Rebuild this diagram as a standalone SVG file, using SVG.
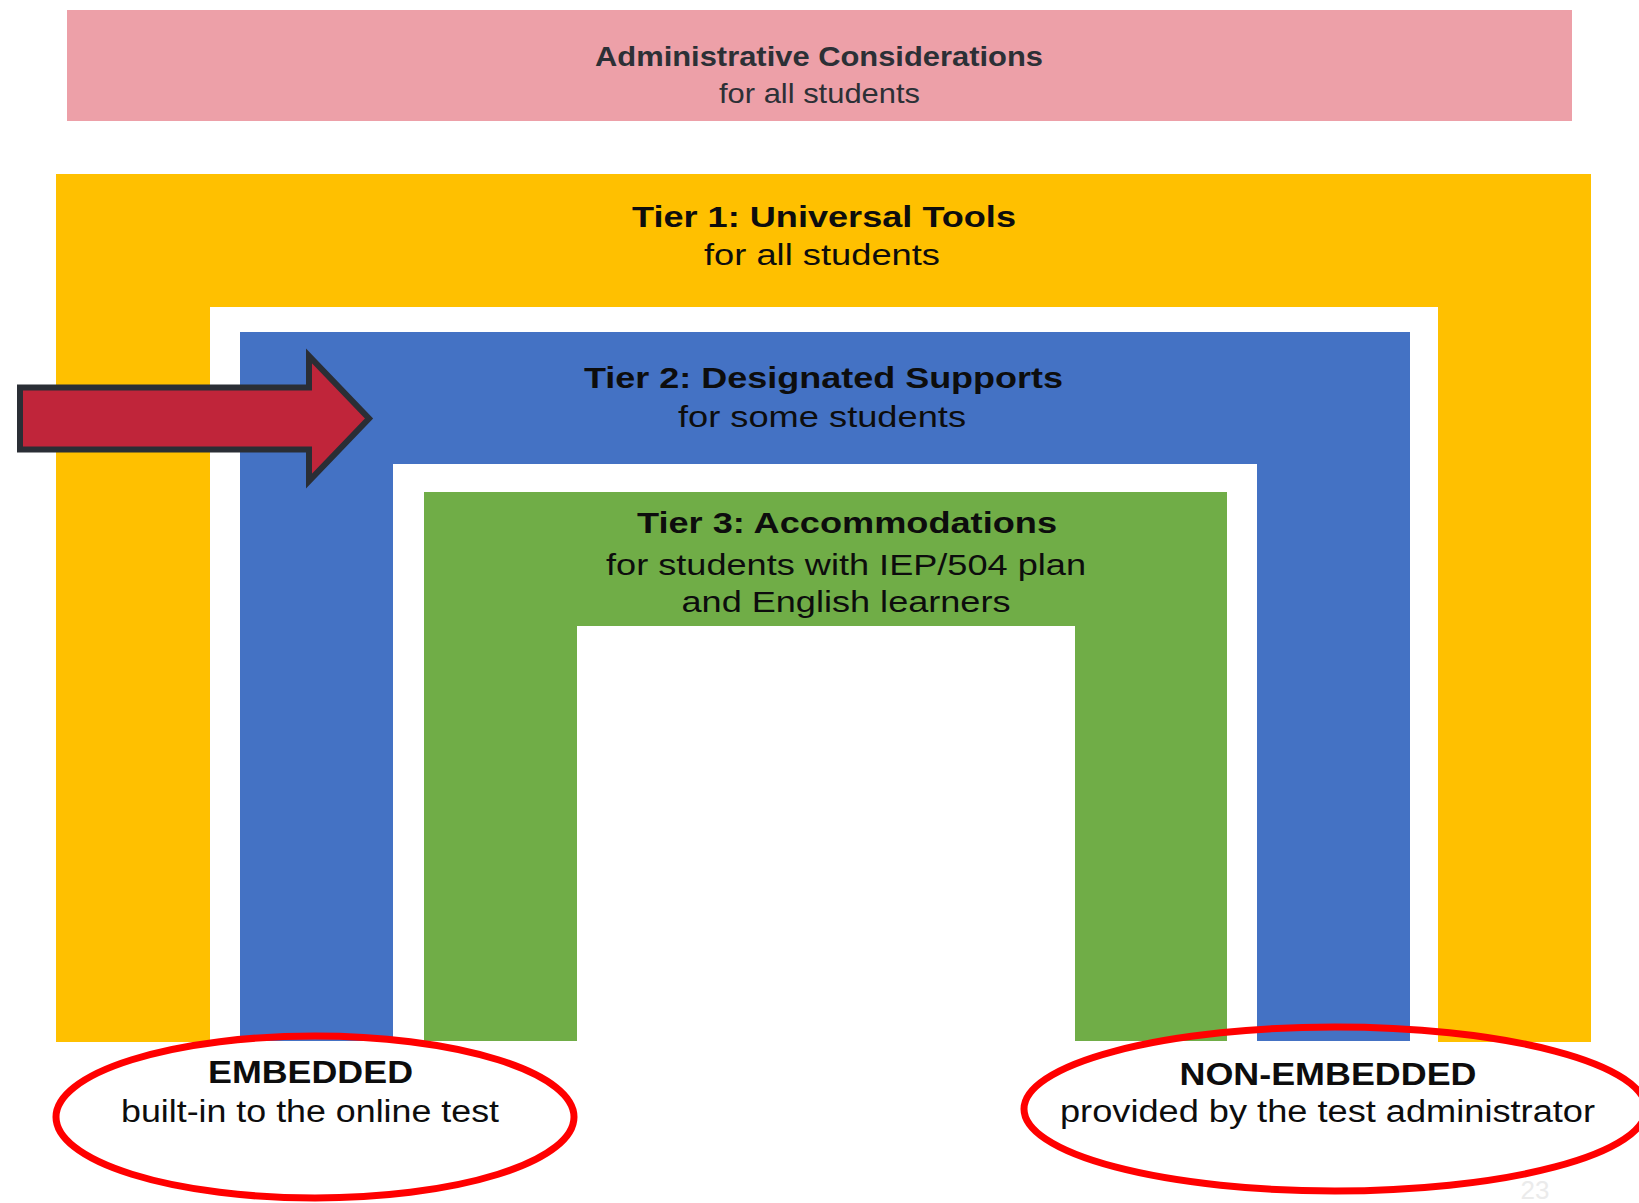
<svg xmlns="http://www.w3.org/2000/svg" width="1639" height="1203" viewBox="0 0 1639 1203">
  <style>
    text { font-family: "Liberation Sans", Arial, sans-serif; text-anchor: middle; }
    .b { font-weight: bold; }
    .dk { fill: #2c3036; }
    .bk { fill: #0d0d0d; }
    .ell { fill: none; stroke: #ff0000; stroke-width: 7; }
  </style>
  <rect width="1639" height="1203" fill="#ffffff"/>

  <g id="admin">
    <rect x="67" y="10" width="1505" height="111" fill="#eda0a8"/>
    <text class="b dk" x="819" y="66" font-size="28" textLength="448" lengthAdjust="spacingAndGlyphs">Administrative Considerations</text>
    <text class="dk" x="819.5" y="102.7" font-size="28" textLength="201" lengthAdjust="spacingAndGlyphs">for all students</text>
  </g>

  <g id="tier1">
    <path d="M56 174 H1591 V1042 H1438 V307 H210 V1042 H56 Z" fill="#ffc000"/>
    <text class="b bk" x="824" y="226.7" font-size="29" textLength="384" lengthAdjust="spacingAndGlyphs">Tier 1: Universal Tools</text>
    <text class="bk" x="822" y="265" font-size="29" textLength="236" lengthAdjust="spacingAndGlyphs">for all students</text>
  </g>

  <g id="tier2">
    <path d="M240 332 H1410 V1041 H1257 V464 H393 V1041 H240 Z" fill="#4472c4"/>
    <text class="b bk" x="823.5" y="388.3" font-size="30" textLength="479" lengthAdjust="spacingAndGlyphs">Tier 2: Designated Supports</text>
    <text class="bk" x="822" y="427" font-size="30" textLength="288" lengthAdjust="spacingAndGlyphs">for some students</text>
  </g>

  <g id="tier3">
    <path d="M424 492 H1227 V1041 H1075 V626 H577 V1041 H424 Z" fill="#70ad47"/>
    <text class="b bk" x="847" y="533.3" font-size="30" textLength="420" lengthAdjust="spacingAndGlyphs">Tier 3: Accommodations</text>
    <text class="bk" x="846" y="575" font-size="30" textLength="480" lengthAdjust="spacingAndGlyphs">for students with IEP/504 plan</text>
    <text class="bk" x="846" y="612.3" font-size="30" textLength="329" lengthAdjust="spacingAndGlyphs">and English learners</text>
  </g>

  <g id="connectors">
    <polygon points="20,387.5 309,387.5 309,356 369,418.5 309,481 309,449.5 20,449.5" fill="#c0253a" stroke="#2a2e35" stroke-width="6" stroke-linejoin="miter"/>
  </g>

  <g id="embedded">
    <ellipse class="ell" cx="315" cy="1117" rx="259" ry="81"/>
    <text class="b bk" x="310.5" y="1083" font-size="31" textLength="205" lengthAdjust="spacingAndGlyphs">EMBEDDED</text>
    <text class="bk" x="310" y="1121.7" font-size="31" textLength="378" lengthAdjust="spacingAndGlyphs">built-in to the online test</text>
  </g>

  <g id="non-embedded">
    <ellipse class="ell" cx="1335" cy="1109" rx="311" ry="82"/>
    <text class="b bk" x="1328" y="1085" font-size="31" textLength="297" lengthAdjust="spacingAndGlyphs">NON-EMBEDDED</text>
    <text class="bk" x="1327.5" y="1121.7" font-size="31" textLength="535" lengthAdjust="spacingAndGlyphs">provided by the test administrator</text>
  </g>

  <text x="1535" y="1199" font-size="26" fill="#ebebeb">23</text>
</svg>
